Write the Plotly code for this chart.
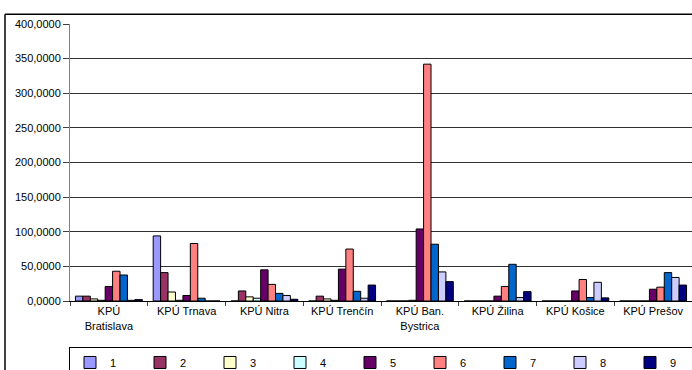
"""Grouped bar chart of KPÚ values, series 1-9"""

import plotly.graph_objects as go

categories = [
    "KPÚ<br>Bratislava",
    "KPÚ Trnava",
    "KPÚ Nitra",
    "KPÚ Trenčín",
    "KPÚ Ban.<br>Bystrica",
    "KPÚ Žilina",
    "KPÚ Košice",
    "KPÚ Prešov",
]

series_names = ["1", "2", "3", "4", "5", "6", "7", "8", "9"]

s1 = [7, 94, 0, 0, 0, 0, 0, 0]
s2 = [7, 41, 14.5, 7, 0, 0, 0, 0]
s3 = [3, 13, 6, 3, 0, 0, 0, 0]
s4 = [1, 1, 4, 1, 1, 0, 0, 0]
s5 = [21, 8, 45, 46, 104, 7, 14.5, 17]
s6 = [43, 83, 24, 75, 342, 21, 31, 20]
s7 = [37.5, 4, 11, 14, 82, 53, 5, 41]
s8 = [1, 0, 8, 4, 42, 5, 27, 34]
s9 = [2, 0, 2.5, 23, 28, 13.5, 4.5, 23]

series_values = [s1, s2, s3, s4, s5, s6, s7, s8, s9]

# classic Excel fill palette
colors = ["#9999FF", "#993366", "#FFFFCC", "#CCFFFF", "#660066",
          "#FF8080", "#0066CC", "#CCCCFF", "#000080"]

font = dict(family="Liberation Sans, Arial, sans-serif", size=11, color="#000000")

fig = go.Figure()
for name, vals, col in zip(series_names, series_values, colors):
    fig.add_trace(go.Bar(
        x=categories, y=vals, name=name,
        marker=dict(color=col, line=dict(color="#000000", width=1)),
    ))

fig.update_layout(
    width=692, height=370,
    margin=dict(l=70, r=0, t=24, b=69, autoexpand=False),
    paper_bgcolor="white", plot_bgcolor="white",
    font=font,
    separators=", ",
    barmode="group", bargap=0.14, bargroupgap=0,
    legend=dict(
        orientation="h", x=-0.0016, y=-0.166, xanchor="left", yanchor="top",
        entrywidth=25, entrywidthmode="pixels",
        bordercolor="#000000", borderwidth=1, bgcolor="white",
        font=font, itemwidth=30, tracegroupgap=0,
    ),
    showlegend=True,
)

fig.update_yaxes(
    range=[0, 400], dtick=50, tickformat=".4f",
    showgrid=True, gridcolor="#303030", gridwidth=1,
    showline=True, linecolor="#808080", linewidth=1,
    ticks="outside", ticklen=6, tickcolor="#404040",
    zeroline=False, tickfont=font, automargin=False,
)
fig.update_xaxes(
    tickson="boundaries", ticks="outside", ticklen=4, tickcolor="#404040",
    showline=True, linecolor="#000000", linewidth=1,
    showgrid=False, tickfont=font, automargin=False,
)

# outer chart border: only the top and left edges are inside the picture
border = dict(color="#000000", width=1.5)
fig.add_shape(type="line", xref="paper", yref="paper",
              x0=-0.1045, x1=1.05, y0=1.035, y1=1.035, line=border)
fig.add_shape(type="line", xref="paper", yref="paper",
              x0=-0.1045, x1=-0.1045, y0=-0.3, y1=1.035, line=border)

# the page's default body margin would shift the figure by 8px
fig.write_html(
    "out.html",
    config={"displayModeBar": False},
    post_script="document.body.style.margin='0px';",
)
